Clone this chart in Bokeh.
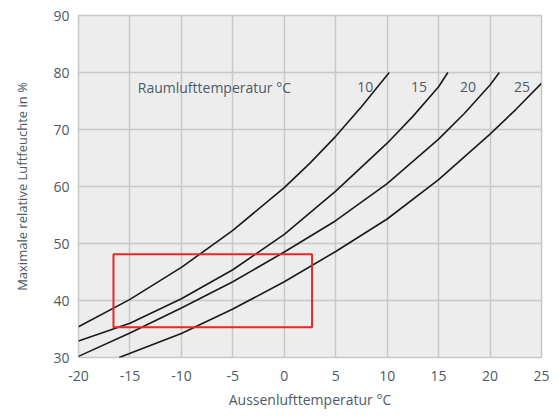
from bokeh.plotting import figure
from bokeh.models import Range1d, FixedTicker
from bokeh.embed import file_html
from bokeh.resources import INLINE
from bokeh.core.properties import value

# Data
x_ticks = [-20, -15, -10, -5, 0, 5, 10, 15, 20, 25]
x_tick_labels = ["-20", "-15", "-10", "-5", "0", "5", "10", "15", "20", "25"]
y_ticks = [30, 40, 50, 60, 70, 80, 90]
y_tick_labels = ["30", "40", "50", "60", "70", "80", "90"]

t_room10 = [-20, -15, -10, -5, 0, 2.5, 5, 7.5, 10.2]
rh_room10 = [35.4, 40.2, 45.8, 52.3, 59.8, 64.1, 68.8, 74.0, 80.0]

t_room15 = [-20, -15, -10, -5, 0, 5, 10, 12.5, 15, 15.9]
rh_room15 = [32.9, 36.0, 40.3, 45.4, 51.6, 59.2, 67.6, 72.3, 77.5, 80.0]

t_room20 = [-20, -15, -10, -5, 0, 5, 10, 15, 17.5, 20, 20.9]
rh_room20 = [30.2, 34.3, 38.7, 43.3, 48.5, 54.0, 60.5, 68.3, 72.8, 77.8, 80.0]

t_room25 = [-16.05, -10, -5, 0, 5, 10, 15, 20, 22.5, 25]
rh_room25 = [30.0, 34.2, 38.5, 43.3, 48.6, 54.3, 61.2, 69.2, 73.5, 78.1]

curves = [(t_room10, rh_room10), (t_room15, rh_room15), (t_room20, rh_room20), (t_room25, rh_room25)]

room_labels = ["10", "15", "20", "25"]
room_label_x = [7.87, 13.1, 17.85, 23.1]
room_label_y = [77.4, 77.4, 77.4, 77.4]

rect_left, rect_right, rect_bottom, rect_top = -16.6, 2.7, 35.3, 48.1

title_text = "Raumlufttemperatur °C"
title_x = -14.24
title_y = 77.4

TEXT = "#4d5a65"
GRID = "#c8c8c8"
FONT = "Open Sans"

p = figure(width=551, height=411, output_backend="svg", toolbar_location=None,
           x_range=Range1d(-20, 25), y_range=Range1d(30, 90),
           min_border_left=78, min_border_right=10, min_border_top=15, min_border_bottom=54)

p.background_fill_color = "#ededed"
p.border_fill_color = "white"
p.outline_line_color = GRID
p.outline_line_width = 1.5

for ax in (p.xaxis[0], p.yaxis[0]):
    ax.axis_line_color = None
    ax.major_tick_line_color = None
    ax.minor_tick_line_color = None
    ax.major_tick_in = 0
    ax.major_tick_out = 0
    ax.minor_tick_in = 0
    ax.minor_tick_out = 0
    ax.major_label_text_color = TEXT
    ax.major_label_text_font = FONT
    ax.major_label_text_font_size = "14px"
    ax.axis_label_text_color = TEXT
    ax.axis_label_text_font = FONT
    ax.axis_label_text_font_style = "normal"

p.xaxis.axis_label_text_font_size = "14px"
p.yaxis.axis_label_text_font_size = "13px"
p.xaxis.ticker = FixedTicker(ticks=x_ticks)
p.yaxis.ticker = FixedTicker(ticks=y_ticks)
p.xaxis.major_label_overrides = {t: s for t, s in zip(x_ticks, x_tick_labels)}
p.yaxis.major_label_overrides = {t: s for t, s in zip(y_ticks, y_tick_labels)}
p.xaxis.major_label_standoff = 13
p.yaxis.major_label_standoff = 9
p.xaxis.axis_label = "Aussenlufttemperatur °C"
p.yaxis.axis_label = "Maximale relative Luftfeuchte in %"
p.xaxis.axis_label_standoff = 6
p.yaxis.axis_label_standoff = 19

p.xgrid.grid_line_color = GRID
p.ygrid.grid_line_color = GRID
p.xgrid.grid_line_width = 1.5
p.ygrid.grid_line_width = 1.5

for xs, ys in curves:
    p.line(xs, ys, line_color="#1a1a1a", line_width=1.6, line_join="round")

p.quad(left=[rect_left], right=[rect_right], bottom=[rect_bottom], top=[rect_top],
       fill_color=None, line_color="#e8262b", line_width=2)

p.text(x=room_label_x, y=room_label_y, text=room_labels, text_align="center",
       text_baseline="middle", text_color=TEXT, text_font=value(FONT), text_font_size="14px")
p.text(x=[title_x], y=[title_y], text=[title_text], text_align="left",
       text_baseline="middle", text_color=TEXT, text_font=value(FONT), text_font_size="14px")

open("out.html", "w").write(file_html(p, INLINE))
